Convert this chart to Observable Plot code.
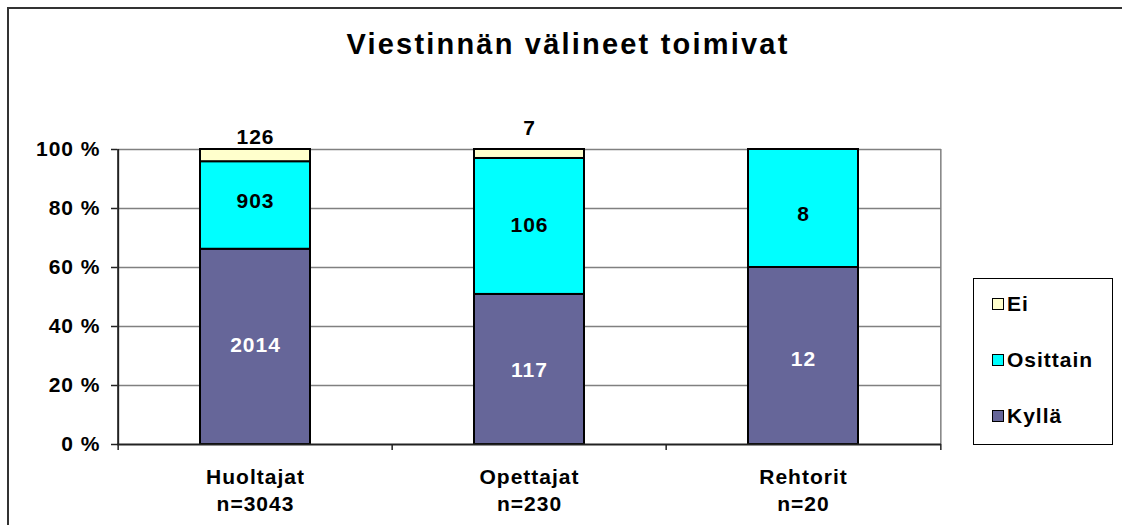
<!DOCTYPE html>
<html>
<head>
<meta charset="utf-8">
<script src="https://cdn.jsdelivr.net/npm/d3@7"></script>
<script src="https://cdn.jsdelivr.net/npm/@observablehq/plot@0.6"></script>
<style>
  body { margin: 0; background: #fff; font-family: "Liberation Sans", Arial, sans-serif; }
  #wrap { position: relative; width: 1122px; height: 525px; overflow: hidden; background: #fff; }
  #frame { position: absolute; left: 7px; top: 7px; width: 1200px; height: 600px; border: 2px solid #333; box-sizing: border-box; }
  #title { position: absolute; left: 0; width: 1136px; top: 30px; line-height: 29px; text-align: center; font-weight: bold; font-size: 29px; letter-spacing: 2.2px; color: #000; }
  #chart { position: absolute; left: 0; top: 0; }
  #legend { position: absolute; left: 973px; top: 278px; width: 140px; height: 167px; border: 1px solid #000; box-sizing: border-box; background: #fff; }
  .item { position: absolute; left: 18px; font-weight: bold; font-size: 21px; letter-spacing: 1px; display: flex; align-items: center; height: 24px; }
  .sw { width: 10px; height: 10px; border: 1px solid #000; margin-right: 3px; }
</style>
</head>
<body>
<div id="wrap">
  <div id="frame"></div>
  <div id="chart"></div>
  <div id="title">Viestinnän välineet toimivat</div>
  <div id="legend"></div>
</div>
<script>
const categories = ["Huoltajat", "Opettajat", "Rehtorit"];
const categoryLabels = ["Huoltajat\nn=3043", "Opettajat\nn=230", "Rehtorit\nn=20"];
const series = ["Kyllä", "Osittain", "Ei"];
const kylla = [2014, 117, 12];
const osittain = [903, 106, 8];
const ei = [126, 7, 0];
const colors = ["#666699", "#00FFFF", "#FFFFCC"];
const yTicks = [0, 0.2, 0.4, 0.6, 0.8, 1];

const values = [kylla, osittain, ei];
const data = [];
series.forEach((s, si) => categories.forEach((c, ci) => {
  data.push({group: c, answer: s, count: values[si][ci]});
}));
const nonZero = data.filter(d => d.count > 0);
const lower = nonZero.filter(d => d.answer !== "Ei");
const labelMap = Object.fromEntries(categories.map((c, i) => [c, categoryLabels[i]]));

const stackOpts = {x: "group", y: "count", offset: "normalize", order: series, z: "answer"};
const half = 824 / 3 / 2;
const txt = d => String(d.count);

const chart = Plot.plot({
  width: 1122,
  height: 525,
  marginLeft: 117,
  marginRight: 181,
  marginTop: 149,
  marginBottom: 81,
  style: {fontFamily: "'Liberation Sans', Arial, sans-serif", background: "transparent", letterSpacing: "1px"},
  x: {domain: categories, paddingInner: 0.6, paddingOuter: 0.3, label: null},
  y: {domain: [0, 1], label: null},
  color: {domain: series, range: colors},
  marks: [
    Plot.ruleY(yTicks.slice(1), {stroke: "#808080", strokeWidth: 1.5}),
    Plot.ruleX([categories[2]], {dx: half, stroke: "#808080", strokeWidth: 1.5}),
    Plot.barY(nonZero, Plot.stackY({...stackOpts, fill: "answer", stroke: "#000", strokeWidth: 2})),
    Plot.text(lower, Plot.stackY({...stackOpts, text: d => d.answer === "Kyllä" ? txt(d) : "",
      fill: "#fff", fontSize: 21, fontWeight: "bold", dy: 3})),
    Plot.text(lower, Plot.stackY({...stackOpts, text: d => d.answer === "Osittain" ? txt(d) : "",
      fill: "#000", fontSize: 21, fontWeight: "bold", dy: 6})),
    Plot.text(nonZero.filter(d => d.answer === "Ei" && d.group === "Huoltajat"), {x: "group", y: () => 1, text: txt, dy: -12, fontSize: 21, fontWeight: "bold"}),
    Plot.text(nonZero.filter(d => d.answer === "Ei" && d.group === "Opettajat"), {x: "group", y: () => 1, text: txt, dy: -21, fontSize: 21, fontWeight: "bold"}),
    Plot.ruleY([0], {stroke: "#222", strokeWidth: 2}),
    Plot.ruleX([categories[0]], {dx: -half, stroke: "#222", strokeWidth: 2}),
    Plot.ruleX(categories, {x: d => d, dx: -half, y1: 0, y2: 0, insetBottom: -6, stroke: "#222", strokeWidth: 1.5}),
    Plot.ruleX([categories[2]], {x: d => d, dx: half, y1: 0, y2: 0, insetBottom: -6, stroke: "#222", strokeWidth: 1.5}),
    Plot.axisY({ticks: yTicks, tickFormat: d => Math.round(d * 100) + " %", tickSize: 6, tickPadding: 11,
      fontSize: 21, fontWeight: "bold", stroke: "#222", strokeWidth: 1.5, fill: "#000"}),
    Plot.axisX({tickFormat: d => labelMap[d], tickSize: 0, tickPadding: 20, fontSize: 21, fontWeight: "bold",
      lineHeight: 1.3, fill: "#000"})
  ]
});
document.getElementById("chart").appendChild(chart);

const legend = document.getElementById("legend");
const order = ["Ei", "Osittain", "Kyllä"];
const tops = [13, 69, 125];
order.forEach((s, i) => {
  const el = document.createElement("div");
  el.className = "item";
  el.style.top = tops[i] + "px";
  const sw = document.createElement("div");
  sw.className = "sw";
  sw.style.background = colors[series.indexOf(s)];
  el.appendChild(sw);
  el.appendChild(document.createTextNode(s));
  legend.appendChild(el);
});
</script>
</body>
</html>
